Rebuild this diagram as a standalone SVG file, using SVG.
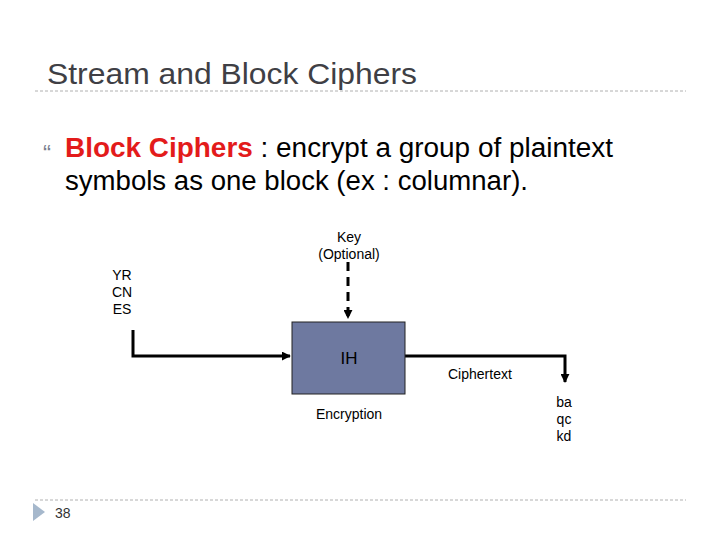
<svg xmlns="http://www.w3.org/2000/svg" width="720" height="540" viewBox="0 0 720 540">
<style>
.t{font-family:"Liberation Sans",Arial,sans-serif;fill:#000}
.s{font-size:14px}
.dash{stroke:#b0b0b0;stroke-width:1;stroke-dasharray:3,2;fill:none}
.conn{stroke:#000;stroke-width:3;fill:none}
</style>
<defs>
<marker id="ah" viewBox="0 0 10 10" refX="9" refY="5" markerWidth="3" markerHeight="3" orient="auto" markerUnits="strokeWidth">
<path d="M0,0 L10,5 L0,10 z" fill="#000"/>
</marker>
</defs>
<rect width="720" height="540" fill="#fff"/>
<g id="title">
<text class="t" x="47" y="84" font-size="29" textLength="370" lengthAdjust="spacingAndGlyphs" style="fill:#3f3f45">Stream and Block Ciphers</text>
<line class="dash" x1="35" y1="91" x2="686" y2="91"/>
</g>
<g id="bullet">
<text class="t" x="43" y="162" font-size="24" style="fill:#7a8090">“</text>
<text class="t" x="65" y="157" font-size="27" textLength="548" lengthAdjust="spacingAndGlyphs"><tspan font-weight="bold" style="fill:#e31b1b">Block Ciphers</tspan> : encrypt a group of plaintext</text>
<text class="t" x="65" y="190" font-size="27" textLength="463" lengthAdjust="spacingAndGlyphs">symbols as one block (ex : columnar).</text>
</g>
<g id="connectors">
<line class="conn" x1="348" y1="262" x2="348" y2="318" stroke-dasharray="9,6" marker-end="url(#ah)"/>
<polyline class="conn" points="133,330 133,356 290,356" marker-end="url(#ah)"/>
<polyline class="conn" points="405,356 565,356 565,382" marker-end="url(#ah)"/>
</g>
<g id="key">
<text class="t s" x="349" y="242" text-anchor="middle">Key</text>
<text class="t s" x="349" y="259" text-anchor="middle">(Optional)</text>
</g>
<g id="plaintext">
<text class="t s" x="122" y="280" text-anchor="middle">YR</text>
<text class="t s" x="122" y="297" text-anchor="middle">CN</text>
<text class="t s" x="122" y="314" text-anchor="middle">ES</text>
</g>
<g id="encryption">
<rect x="292" y="322" width="113" height="72" fill="#6e79a0" stroke="#222" stroke-width="1"/>
<text class="t" x="349" y="364" font-size="17" text-anchor="middle">IH</text>
<text class="t s" x="349" y="419" text-anchor="middle">Encryption</text>
</g>
<g id="ciphertext-label">
<text class="t s" x="448" y="379">Ciphertext</text>
</g>
<g id="ciphertext">
<text class="t s" x="564" y="407" text-anchor="middle">ba</text>
<text class="t s" x="564" y="424" text-anchor="middle">qc</text>
<text class="t s" x="564" y="441" text-anchor="middle">kd</text>
</g>
<g id="footer">
<line class="dash" x1="35" y1="500" x2="686" y2="500"/>
<polygon points="33,503 45,512 33,521" fill="#a6b8cc"/>
<text class="t s" x="55" y="518" style="fill:#333">38</text>
</g>
</svg>
